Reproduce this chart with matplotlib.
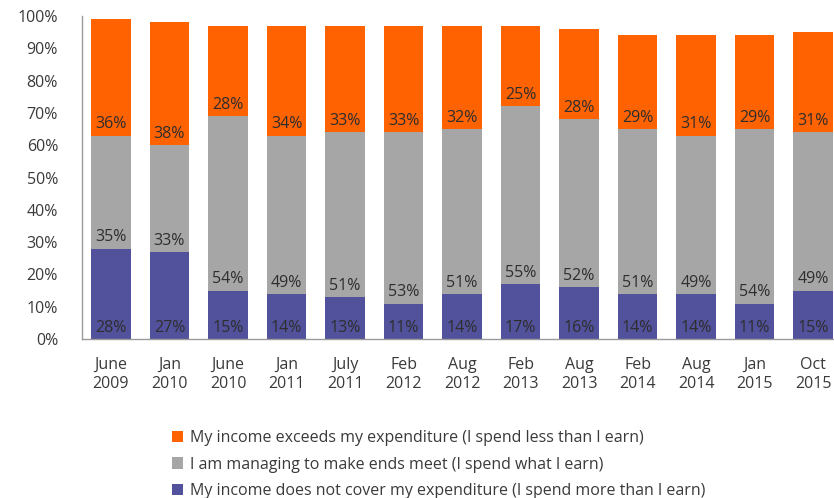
"""Stacked bar chart: household income vs expenditure survey waves."""

import matplotlib.pyplot as plt
import numpy as np
from matplotlib.patches import Patch

plt.rcParams["font.family"] = ["Open Sans", "DejaVu Sans"]

WAVES = ["June\n2009", "Jan\n2010", "June\n2010", "Jan\n2011", "July\n2011",
         "Feb\n2012", "Aug\n2012", "Feb\n2013", "Aug\n2013", "Feb\n2014",
         "Aug\n2014", "Jan\n2015", "Oct\n2015"]
SHORTFALL = [28, 27, 15, 14, 13, 11, 14, 17, 16, 14, 14, 11, 15]
BREAK_EVEN = [35, 33, 54, 49, 51, 53, 51, 55, 52, 51, 49, 54, 49]
SURPLUS = [36, 38, 28, 34, 33, 33, 32, 25, 28, 29, 31, 29, 31]

LABELS = [
    "My income does not cover my expenditure (I spend more than I earn)",
    "I am managing to make ends meet (I spend what I earn)",
    "My income exceeds my expenditure (I spend less than I earn)",
]
COLORS = ["#52519C", "#A6A6A6", "#FF6200"]
TEXT = "#3A3A3A"

fig = plt.figure(figsize=(8.34, 4.98), dpi=100)
ax = fig.add_axes([0.098, 0.319, 0.912, 0.649])

x = np.arange(len(WAVES))
bottom = np.zeros(len(WAVES))
for series, color in zip([SHORTFALL, BREAK_EVEN, SURPLUS], COLORS):
    vals = np.array(series, dtype=float)
    ax.bar(x, vals, bottom=bottom, width=0.67, color=color, linewidth=0)
    for xi, b, v in zip(x, bottom, vals):
        ax.text(xi, b + 1.0, f"{v:.0f}%", ha="center", va="bottom",
                fontsize=11.5, color="#2E2E2E")
    bottom += vals

ax.set_xlim(-0.5, len(WAVES) - 0.5)
ax.set_ylim(0, 100)
ax.set_yticks(np.arange(0, 101, 10))
ax.set_yticklabels([f"{t}%" for t in range(0, 101, 10)])
ax.set_xticks(x)
ax.set_xticklabels(WAVES, linespacing=1.2)
ax.tick_params(axis="both", length=0, labelsize=11.5, colors=TEXT)
ax.tick_params(axis="y", pad=17)
ax.tick_params(axis="x", pad=13)

for side in ["top", "right"]:
    ax.spines[side].set_visible(False)
for side in ["left", "bottom"]:
    ax.spines[side].set_color("#9A9A9A")
    ax.spines[side].set_linewidth(1.0)

handles = [Patch(facecolor=c, edgecolor="none", label=l)
           for c, l in zip(COLORS, LABELS)][::-1]
fig.legend(handles=handles, loc="upper left", bbox_to_anchor=(0.198, 0.150),
           frameon=False, fontsize=11.5, handlelength=0.7, handleheight=0.7,
           handletextpad=0.45, labelspacing=0.68, borderaxespad=0,
           labelcolor=TEXT)

fig.savefig("out.png", dpi=100)
